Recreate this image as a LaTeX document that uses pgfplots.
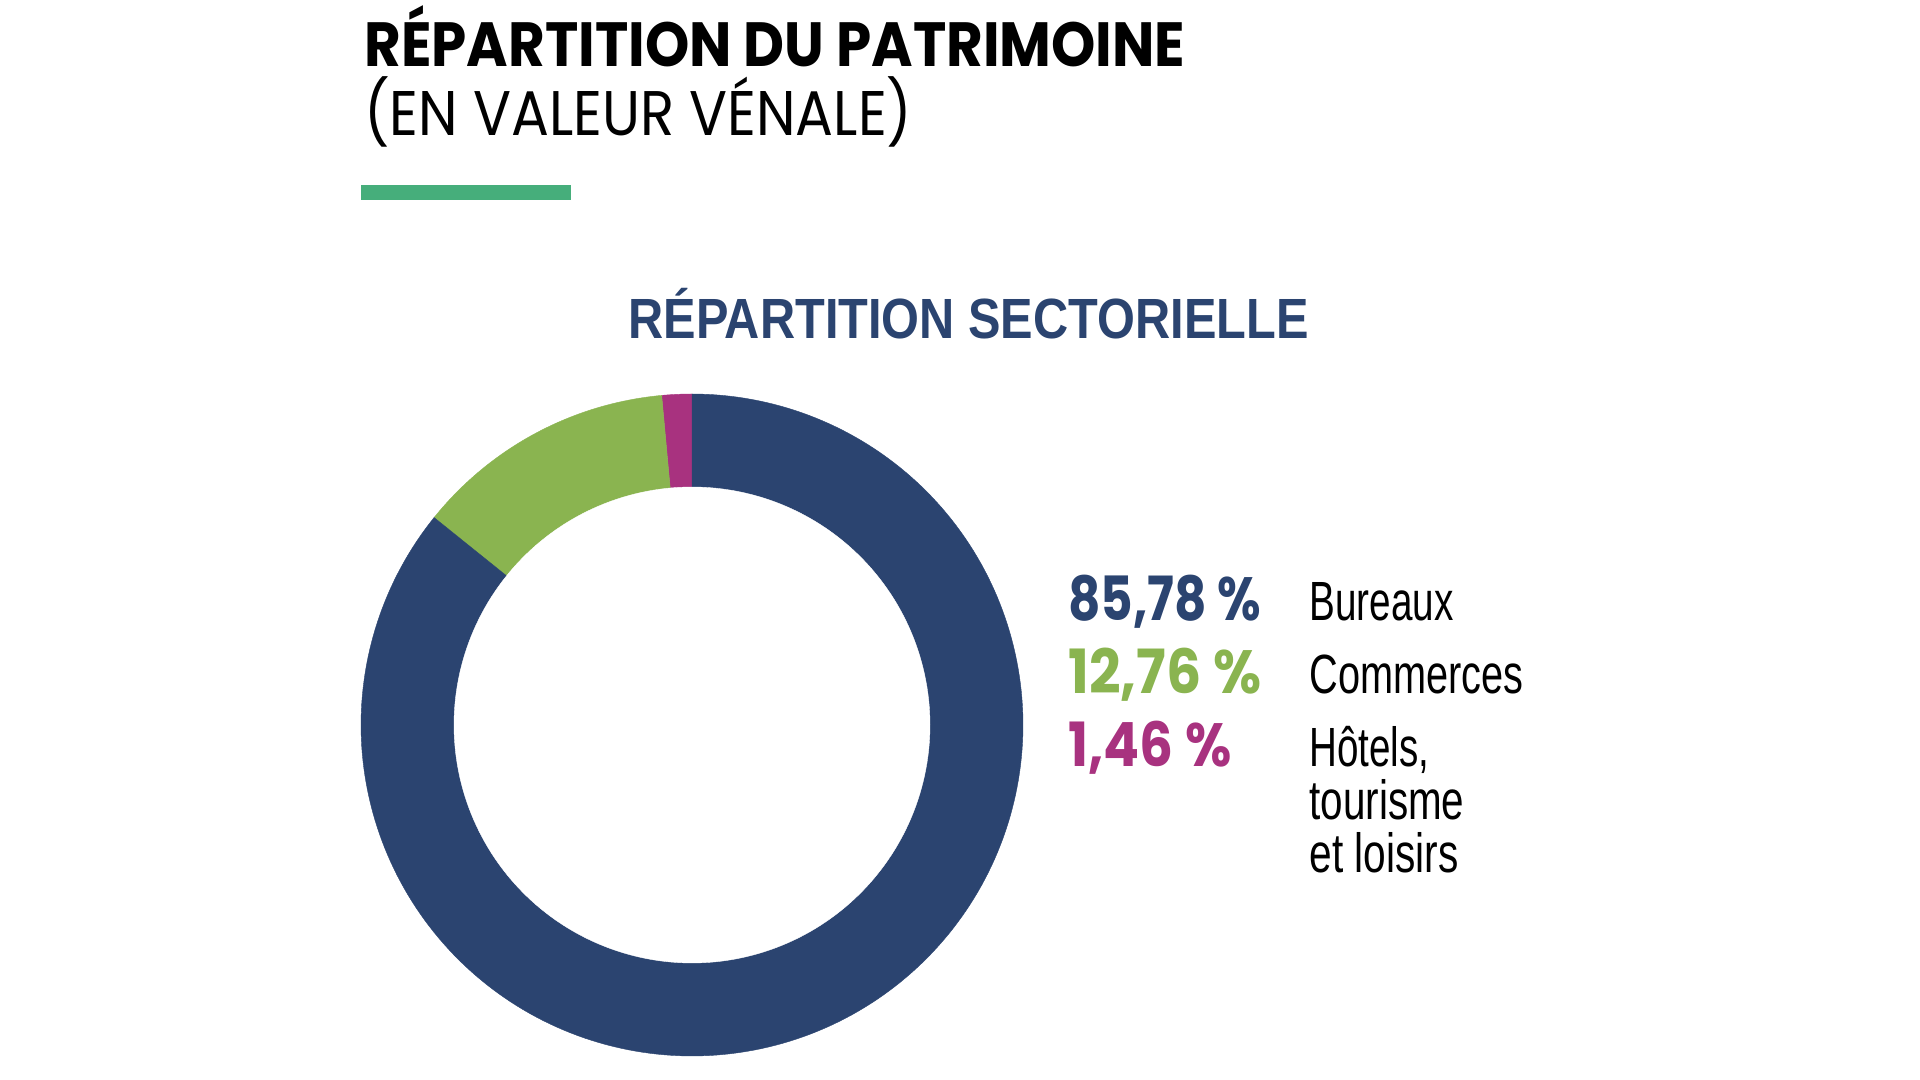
\documentclass[border=0pt]{standalone}
\usepackage{pgfplots}
\pgfplotsset{compat=1.18}
\usepackage{pgfplotstable}
\usepackage{graphicx}
\usepackage{fontspec}
\setmainfont{Liberation Sans}
\newfontfamily\geo{Poppins}
\definecolor{navy}{HTML}{2B4470}
\definecolor{leaf}{HTML}{8AB450}
\definecolor{plum}{HTML}{A8327F}
\definecolor{barg}{HTML}{46AE7B}
\newcommand\fit[3]{\resizebox{#1}{#2}{\raisebox{0pt}[\fontcharht\font`H][0pt]{#3}}}
\pgfplotstableread{
label pct
Bureaux 85.78
Commerces 12.76
Hotels 1.46
}\datatable
\pgfplotstablegetelem{1}{pct}\of\datatable \let\pB\pgfplotsretval
\pgfplotstablegetelem{2}{pct}\of\datatable \let\pC\pgfplotsretval
\pgfmathsetmacro\aA{90}
\pgfmathsetmacro\aB{90+3.6*\pC}
\pgfmathsetmacro\aC{\aB+3.6*\pB}
\pgfmathsetmacro\aD{450}
\begin{document}
\begin{tikzpicture}
\path (0,0) rectangle (960pt,540pt);
\begin{axis}[
  at={(346pt,177.5pt)}, anchor=center,
  width=331pt, height=331pt, scale only axis,
  hide axis, clip=false,
  xmin=-1, xmax=1, ymin=-1, ymax=1]
\addplot[fill=plum, draw=plum, line width=0.2pt, domain=\aA:\aB, samples=20] ({cos(x)},{sin(x)}) -- (axis cs:0,0) -- cycle;
\addplot[fill=leaf, draw=leaf, line width=0.2pt, domain=\aB:\aC, samples=60] ({cos(x)},{sin(x)}) -- (axis cs:0,0) -- cycle;
\addplot[fill=navy, draw=navy, line width=0.2pt, domain=\aC:\aD, samples=240] ({cos(x)},{sin(x)}) -- (axis cs:0,0) -- cycle;
\addplot[fill=white, draw=white, line width=0.2pt, domain=0:360, samples=240] ({0.719*cos(x)},{0.719*sin(x)}) -- cycle;
\end{axis}
\begin{scope}[x=0.5pt,y=-0.5pt,yshift=540pt]
\node[anchor=base west, inner sep=0] at (364,67) {\geo\bfseries\fit{410.5pt}{22pt}{RÉPARTITION DU PATRIMOINE}};
\node[anchor=base west, inner sep=0] at (364,136) {\geo\fit{274pt}{22pt}{(EN VALEUR VÉNALE)}};
\fill[barg] (361,185) rectangle (571,200);
\node[anchor=base west, inner sep=0, text=navy] at (628,339) {\bfseries\fit{340pt}{19.5pt}{RÉPARTITION SECTORIELLE}};
\node[anchor=base west, inner sep=0, text=navy] at (1068,621) {\geo\bfseries\fit{96.5pt}{21.5pt}{85,78 \%}};
\node[anchor=base west, inner sep=0, text=leaf] at (1068,694) {\geo\bfseries\fit{96.5pt}{21.5pt}{12,76 \%}};
\node[anchor=base west, inner sep=0, text=plum] at (1068,767) {\geo\bfseries\fit{81.5pt}{21.5pt}{1,46 \%}};
\node[anchor=base west, inner sep=0] at (1309,621) {\fit{72pt}{19pt}{Bureaux}};
\node[anchor=base west, inner sep=0] at (1309,694) {\fit{107pt}{19pt}{Commerces}};
\node[anchor=base west, inner sep=0] at (1309,767) {\fit{60pt}{19pt}{Hôtels,}};
\node[anchor=base west, inner sep=0] at (1309,820) {\fit{77.5pt}{19pt}{tourisme}};
\node[anchor=base west, inner sep=0] at (1309,873) {\fit{74.5pt}{19pt}{et loisirs}};
\end{scope}
\end{tikzpicture}
\end{document}
